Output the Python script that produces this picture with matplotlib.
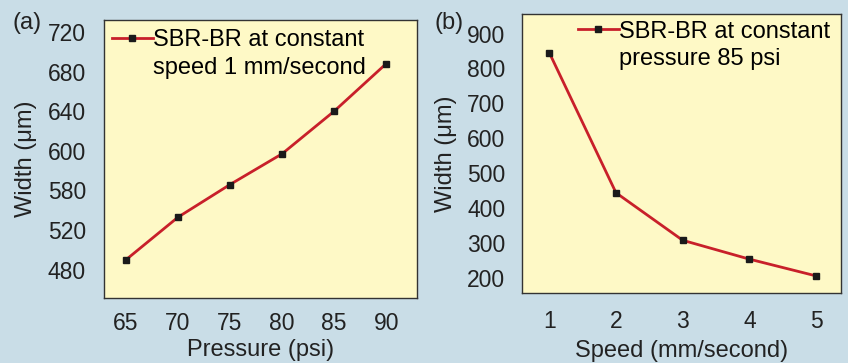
import numpy as np
import matplotlib.pyplot as plt

plt.rcParams['font.family'] = ['Liberation Sans', 'DejaVu Sans']

# panel (a): width vs pressure at constant speed
pressure = [65, 70, 75, 80, 85, 90]
width_a = [490, 533, 566, 597, 640, 688]
yticks_a = [480, 520, 560, 600, 640, 680, 720]
ytick_labels_a = ['480', '520', '580', '600', '640', '680', '720']
legend_a = ['SBR-BR at constant', 'speed 1 mm/second']

# panel (b): width vs speed at constant pressure
speed = [1, 2, 3, 4, 5]
width_b = [845, 444, 308, 254, 206]
yticks_b = [200, 300, 400, 500, 600, 700, 800, 900]
legend_b = ['SBR-BR at constant', 'pressure 85 psi']

bg = '#c9dde7'
panel = '#fef9c6'
red = '#c8202a'
txt = '#222222'
fs = 17
tfs = 16.5

fig = plt.figure(figsize=(8.48, 3.63), dpi=100, facecolor=bg)
W, H = 848, 363
ax1 = fig.add_axes([104 / W, 1 - 298 / H, (417 - 104) / W, (298 - 20) / H])
ax2 = fig.add_axes([522 / W, 1 - 293 / H, (841 - 522) / W, (293 - 14) / H])

def style(ax, xpad, ypad):
    ax.set_facecolor(panel)
    for s in ax.spines.values():
        s.set_color('#333333')
        s.set_linewidth(1.0)
    ax.tick_params(length=0, labelsize=tfs, colors=txt)
    ax.tick_params(axis='x', pad=xpad)
    ax.tick_params(axis='y', pad=ypad)

def two_line_legend(ax, lines, anchor):
    # second line of the label gets an empty handle so the marker sits
    # next to the first line, as in the original figure
    ax.plot([], [], ' ', label=lines[1])
    ax.legend(loc='upper left', bbox_to_anchor=anchor, frameon=False,
              fontsize=fs, handlelength=1.75, handletextpad=0.0,
              borderaxespad=0.0, labelspacing=0.22)

style(ax1, 10, 13)
ax1.plot(pressure, width_a, color=red, lw=2, marker='s', ms=5,
         mfc='#1a1a1a', mec='#1a1a1a', label=legend_a[0])
ax1.set_xlim(62.9, 92.95)
ax1.set_ylim(451.5, 732)
ax1.set_xticks(pressure)
ax1.set_yticks(yticks_a)
ax1.set_yticklabels(ytick_labels_a)
ax1.set_xlabel('Pressure (psi)', fontsize=fs, color=txt, labelpad=3)
ax1.set_ylabel('Width (\u03bcm)', fontsize=fs, color=txt, labelpad=8)
two_line_legend(ax1, legend_a, (-0.006, 1.0))
fig.text(13 / W, 1 - 23 / H, '(a)', fontsize=fs, color=txt, va='center')

style(ax2, 12, 12)
ax2.plot(speed, width_b, color=red, lw=2, marker='s', ms=5,
         mfc='#1a1a1a', mec='#1a1a1a', label=legend_b[0])
ax2.set_xlim(0.59, 5.375)
ax2.set_ylim(157, 956)
ax2.set_xticks(speed)
ax2.set_yticks(yticks_b)
ax2.set_xlabel('Speed (mm/second)', fontsize=fs, color=txt, labelpad=5)
ax2.set_ylabel('Width (\u03bcm)', fontsize=fs, color=txt, labelpad=7)
two_line_legend(ax2, legend_b, (0.145, 1.01))
fig.text(434 / W, 1 - 23 / H, '(b)', fontsize=fs, color=txt, va='center')

fig.savefig('out.png', dpi=100, facecolor=bg)
